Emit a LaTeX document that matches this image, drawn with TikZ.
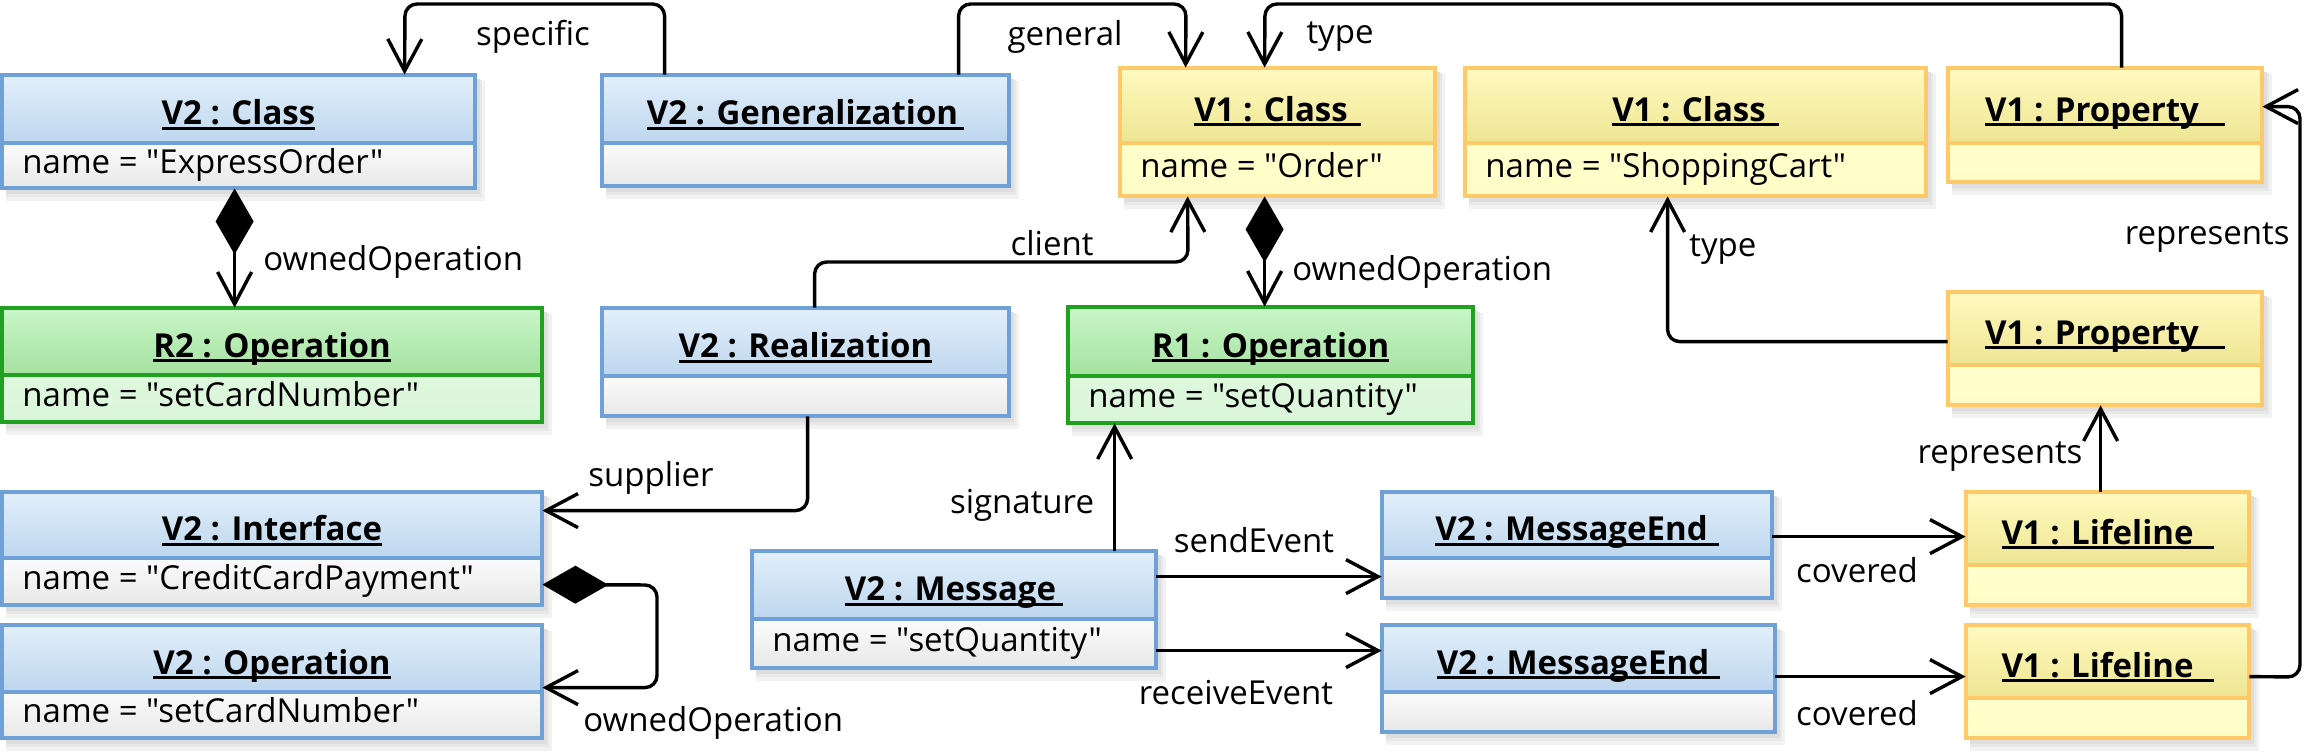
\documentclass[tikz,border=0pt]{standalone}
\usepackage{fontspec}
\setmainfont{Open Sans}[Ligatures=TeXOff]
\usetikzlibrary{arrows.meta,calc,fit}
\definecolor{bln}{HTML}{6FA0D8}
\definecolor{bht}{HTML}{E3EFFB}
\definecolor{bhb}{HTML}{BDD6EE}
\definecolor{bat}{HTML}{FBFBFB}
\definecolor{bab}{HTML}{E8E8E8}
\definecolor{yln}{HTML}{FFC868}
\definecolor{yht}{HTML}{FFFAC0}
\definecolor{yhb}{HTML}{EEE592}
\definecolor{yat}{HTML}{FFFFCC}
\definecolor{yab}{HTML}{FFFDC6}
\definecolor{gln}{HTML}{22A022}
\definecolor{ght}{HTML}{C8F6C8}
\definecolor{ghb}{HTML}{A6E1A1}
\definecolor{gat}{HTML}{DEF8DE}
\definecolor{gab}{HTML}{DAF6DA}
\newcommand\hdr[2]{\setbox0=\hbox{\bfseries #1\hspace*{#2}}\rlap{\vrule height -1pt depth 2.6pt width \wd0}\box0}
\newcommand\umlbox[9]{%
  \fill[black!5] (#2+4,#3+6) rectangle (#4+10,#5+13);
  \fill[black!9] (#2+4,#3+5) rectangle (#4+7,#5+9);
  \fill[black!13] (#2+4,#3+4) rectangle (#4+5,#5+6);
  \shade[top color=#7ht, bottom color=#7hb] (#2,#3) rectangle (#4,#6);
  \shade[top color=#7at, bottom color=#7ab] (#2,#6) rectangle (#4,#5);
  \draw[#7ln, line width=1.8pt] (#2,#6) -- (#4,#6);
  \draw[#7ln, line width=1.8pt] (#2,#3) rectangle (#4,#5);
  \path (#2,#3) coordinate (#1-a) (#4,#5) coordinate (#1-b);
  \node[fit=(#1-a)(#1-b), inner sep=0pt] (#1) {};
  \node[txt, anchor=base] at ({(#2+#4)/2},{(#3+#6)/2+15.5}) {#8};
  \node[txt, anchor=base west, inner sep=0pt] at (#2+20,{(#6+#5)/2+7.5}) {#9};
}
\tikzset{
  txt/.style={font=\fontsize{16.5}{18}\selectfont, text=black},
  lbl/.style={txt, inner sep=0pt},
  conn/.style={line width=1.7pt, rounded corners=6pt},
  arr/.style={conn, -{Straight Barb[length=16pt,width=17pt]}},
  comp/.style={conn, {Diamond[length=33pt,width=19pt]}-{Straight Barb[length=16pt,width=17pt]}}
}
\begin{document}
\begin{tikzpicture}[x=0.5pt,y=-0.5pt]
\useasboundingbox (0,0) rectangle (2307,755);
\fill[white] (0,0) rectangle (2307,755);
% blue
\umlbox{cls2}{2}{75}{475}{188}{143}{b}{\hdr{V2 : Class}{0pt}}{name = "ExpressOrder"}
\umlbox{gen}{602}{75}{1009}{186}{143}{b}{\hdr{V2 : Generalization}{3pt}}{}
\umlbox{real}{602}{308}{1009}{416}{376}{b}{\hdr{V2 : Realization}{0pt}}{}
\umlbox{intf}{2}{492}{542}{605}{558}{b}{\hdr{V2 : Interface}{0pt}}{name = "CreditCardPayment"}
\umlbox{op2}{2}{625}{542}{738}{692}{b}{\hdr{V2 : Operation}{0pt}}{name = "setCardNumber"}
\umlbox{msg}{752}{551}{1156}{668}{619}{b}{\hdr{V2 : Message}{3.5pt}}{name = "setQuantity"}
\umlbox{me1}{1382}{492}{1772}{598}{558}{b}{\hdr{V2 : MessageEnd}{5.5pt}}{}
\umlbox{me2}{1382}{625}{1775}{732}{692}{b}{\hdr{V2 : MessageEnd}{5.5pt}}{}
% green
\umlbox{op2r}{2}{308}{542}{422}{375}{g}{\hdr{R2 : Operation}{0pt}}{name = "setCardNumber"}
\umlbox{op1r}{1068}{307}{1473}{423}{376}{g}{\hdr{R1 : Operation}{0pt}}{name = "setQuantity"}
% yellow
\umlbox{cls1}{1120}{68}{1435}{196}{143}{y}{\hdr{V1 : Class}{6.5pt}}{name = "Order"}
\umlbox{cart}{1465}{68}{1926}{196}{143}{y}{\hdr{V1 : Class}{6.5pt}}{name = "ShoppingCart"}
\umlbox{prop1}{1948}{68}{2262}{182}{143}{y}{\hdr{V1 : Property}{13pt}}{}
\umlbox{prop2}{1948}{292}{2262}{405}{365}{y}{\hdr{V1 : Property}{13pt}}{}
\umlbox{life1}{1966}{492}{2249}{605}{565}{y}{\hdr{V1 : Lifeline}{10pt}}{}
\umlbox{life2}{1966}{625}{2249}{738}{698}{y}{\hdr{V1 : Lifeline}{10pt}}{}
% connectors
\draw[arr] ($(gen.north west)+(63,0)$) |- (405,4) -- ($(cls2.north west)+(403,0)$);
\draw[arr] ($(gen.north west)+(357,0)$) |- (1186,4) -- ($(cls1.north west)+(66,0)$);
\draw[arr] ($(prop1.north west)+(174,0)$) |- (1265,4) -- ($(cls1.north west)+(145,0)$);
\draw[arr] ($(real.north west)+(213,0)$) |- (1188,262) -- ($(cls1.south west)+(68,0)$);
\draw[comp] ($(cls1.south west)+(145,0)$) -- ($(op1r.north west)+(197,0)$);
\draw[comp] ($(cls2.south west)+(233,0)$) -- ($(op2r.north west)+(233,0)$);
\draw[arr] ($(real.south west)+(206,0)$) |- ($(intf.north east)+(0,19)$);
\draw[comp] ($(intf.north east)+(0,93)$) -- (657,585) |- ($(op2.north east)+(0,63)$);
\draw[arr] ($(msg.north west)+(363,0)$) -- ($(op1r.south west)+(47,0)$);
\draw[arr] ($(msg.north east)+(0,26)$) -- ($(me1.north west)+(0,85)$);
\draw[arr] ($(msg.north east)+(0,100)$) -- ($(me2.north west)+(0,26)$);
\draw[arr] ($(me1.north east)+(0,45)$) -- ($(life1.north west)+(0,45)$);
\draw[arr] ($(me2.north east)+(0,52)$) -- ($(life2.north west)+(0,52)$);
\draw[arr] ($(life1.north west)+(135,0)$) -- ($(prop2.south west)+(153,0)$);
\draw[arr] ($(life2.north east)+(0,52)$) -- (2300,677) |- ($(prop1.north east)+(0,39)$);
\draw[arr] ($(prop2.north west)+(0,50)$) -| ($(cart.south west)+(203,0)$);
% labels
\node[lbl] (l1) at (533,37) {specific};
\node[lbl] (l2) at (1065,37) {general};
\node[lbl] (l3) at (1340,37) {type};
\node[lbl, anchor=west] (l4) at (263,262) {ownedOperation};
\node[lbl] (l5) at (1052,243) {client};
\node[lbl, anchor=west] (l6) at (1292,272) {ownedOperation};
\node[lbl, anchor=west] (l7) at (1689,250) {type};
\node[lbl, anchor=east] (l8) at (2290,238) {represents};
\node[lbl] (l9) at (651,478) {supplier};
\node[lbl] (l10) at (2000,457) {represents};
\node[lbl] (l11) at (1022,505) {signature};
\node[lbl] (l12) at (1254,540) {sendEvent};
\node[lbl] (l13) at (1236,693) {receiveEvent};
\node[lbl] (l14) at (1857,570) {covered};
\node[lbl] (l15) at (1857,713) {covered};
\node[lbl, anchor=west] (l16) at (583,723) {ownedOperation};
\end{tikzpicture}
\end{document}
